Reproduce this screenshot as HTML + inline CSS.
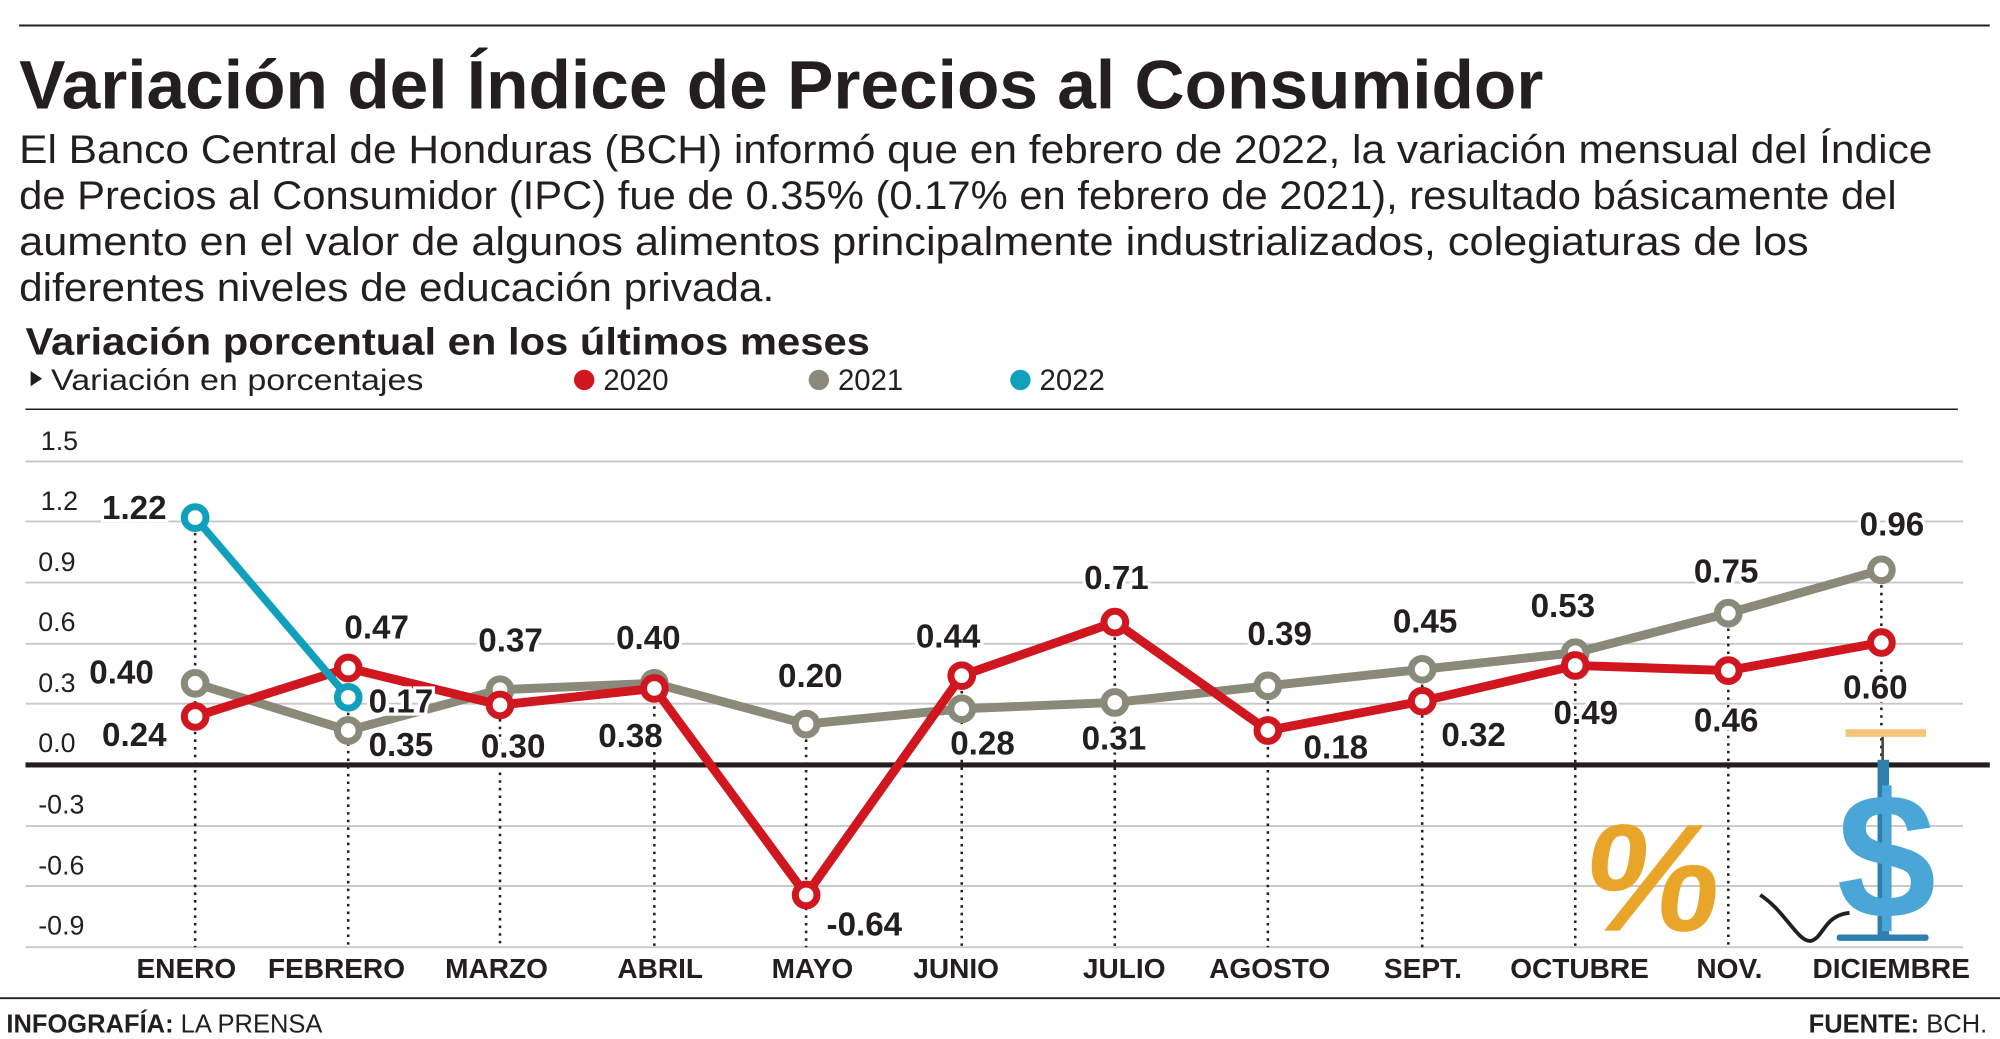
<!DOCTYPE html>
<html><head><meta charset="utf-8"><style>
html,body{margin:0;padding:0;background:#fff;}
svg{display:block;}
text{font-family:"Liberation Sans",sans-serif;fill:#231f20;}
.b{font-weight:bold;}
.v{font-weight:bold;font-size:26px;paint-order:stroke;stroke:#fff;stroke-width:5px;}
.t{font-size:21px;}
.x{font-weight:bold;font-size:22px;}
</style></head><body>
<svg width="2000" height="1039" viewBox="0 0 1568 815" preserveAspectRatio="none" xmlns="http://www.w3.org/2000/svg">
<line x1="15" y1="20" x2="1560" y2="20" stroke="#231f20" stroke-width="1.5"/>
<text x="15" y="85" class="b" font-size="54" textLength="1195" lengthAdjust="spacingAndGlyphs">Variación del Índice de Precios al Consumidor</text>
<g font-size="31">
<text x="15" y="128" textLength="1500" lengthAdjust="spacingAndGlyphs">El Banco Central de Honduras (BCH) informó que en febrero de 2022, la variación mensual del Índice</text>
<text x="15" y="164" textLength="1472" lengthAdjust="spacingAndGlyphs">de Precios al Consumidor (IPC) fue de 0.35% (0.17% en febrero de 2021), resultado básicamente del</text>
<text x="15" y="200" textLength="1403" lengthAdjust="spacingAndGlyphs">aumento en el valor de algunos alimentos principalmente industrializados, colegiaturas de los</text>
<text x="15" y="236" textLength="592" lengthAdjust="spacingAndGlyphs">diferentes niveles de educación privada.</text>
</g>
<text x="20" y="278" class="b" font-size="30" textLength="662" lengthAdjust="spacingAndGlyphs">Variación porcentual en los últimos meses</text>
<polygon points="24,291 33,297 24,303" fill="#231f20"/>
<text x="40" y="306" font-size="23" textLength="292" lengthAdjust="spacingAndGlyphs">Variación en porcentajes</text>
<circle cx="458" cy="298" r="8" fill="#d0161e"/><text x="473" y="306" font-size="23">2020</text>
<circle cx="642" cy="298" r="8" fill="#8a8a7a"/><text x="657" y="306" font-size="23">2021</text>
<circle cx="800" cy="298" r="8" fill="#11a0bb"/><text x="815" y="306" font-size="23">2022</text>
<line x1="20" y1="321" x2="1535" y2="321" stroke="#231f20" stroke-width="1.2"/>
<g stroke="#c8c8c8" stroke-width="1.5">
<line x1="20" y1="362" x2="1539" y2="362"/><line x1="20" y1="409" x2="1539" y2="409"/>
<line x1="20" y1="457" x2="1539" y2="457"/><line x1="20" y1="505" x2="1539" y2="505"/>
<line x1="20" y1="552" x2="1539" y2="552"/><line x1="20" y1="648" x2="1539" y2="648"/>
<line x1="20" y1="695" x2="1539" y2="695"/><line x1="20" y1="743" x2="1539" y2="743"/>
</g>
<g class="t">
<text x="32" y="353">1.5</text><text x="32" y="400">1.2</text><text x="30" y="448">0.9</text>
<text x="30" y="495">0.6</text><text x="30" y="543">0.3</text><text x="30" y="590">0.0</text>
<text x="30" y="638">-0.3</text><text x="30" y="686">-0.6</text><text x="30" y="733">-0.9</text>
</g>
<g stroke="#231f20" stroke-width="2" stroke-dasharray="2,4">
<line x1="153" y1="406" x2="153" y2="743"/><line x1="273" y1="547" x2="273" y2="743"/>
<line x1="392" y1="540" x2="392" y2="743"/><line x1="513" y1="530" x2="513" y2="743"/>
<line x1="632" y1="568" x2="632" y2="743"/><line x1="754" y1="530" x2="754" y2="743"/>
<line x1="874" y1="488" x2="874" y2="743"/><line x1="994" y1="538" x2="994" y2="743"/>
<line x1="1115" y1="525" x2="1115" y2="743"/><line x1="1235" y1="512" x2="1235" y2="743"/>
<line x1="1355" y1="481" x2="1355" y2="743"/><line x1="1475" y1="447" x2="1475" y2="600"/>
</g>
<line x1="20" y1="600" x2="1560" y2="600" stroke="#231f20" stroke-width="4"/>
<polyline fill="none" stroke="#8a8a7a" stroke-width="7" points="153,536 273,573 392,541 513,536 632,568 754,556 874,551 994,538 1115,525 1235,512 1355,481 1475,447"/>
<polyline fill="none" stroke="#d0161e" stroke-width="7" points="153,562 273,524 392,553 513,540 632,702 754,530 874,488 994,573 1115,550 1235,522 1355,526 1475,504"/>
<polyline fill="none" stroke="#11a0bb" stroke-width="6" points="153,406 273,547"/>
<g fill="#fff" stroke-width="5.5">
<g stroke="#8a8a7a"><circle cx="153" cy="536" r="8.5"/><circle cx="273" cy="573" r="8.5"/><circle cx="392" cy="541" r="8.5"/><circle cx="513" cy="536" r="8.5"/><circle cx="632" cy="568" r="8.5"/><circle cx="754" cy="556" r="8.5"/><circle cx="874" cy="551" r="8.5"/><circle cx="994" cy="538" r="8.5"/><circle cx="1115" cy="525" r="8.5"/><circle cx="1235" cy="512" r="8.5"/><circle cx="1355" cy="481" r="8.5"/><circle cx="1475" cy="447" r="8.5"/></g>
<g stroke="#d0161e"><circle cx="153" cy="562" r="8.5"/><circle cx="273" cy="524" r="8.5"/><circle cx="392" cy="553" r="8.5"/><circle cx="513" cy="540" r="8.5"/><circle cx="632" cy="702" r="8.5"/><circle cx="754" cy="530" r="8.5"/><circle cx="874" cy="488" r="8.5"/><circle cx="994" cy="573" r="8.5"/><circle cx="1115" cy="550" r="8.5"/><circle cx="1235" cy="522" r="8.5"/><circle cx="1355" cy="526" r="8.5"/><circle cx="1475" cy="504" r="8.5"/></g>
<g stroke="#11a0bb"><circle cx="153" cy="406" r="8.5"/><circle cx="273" cy="547" r="8.5"/></g>
</g>
<g class="v">
<text x="80" y="407">1.22</text>
<text x="70" y="536">0.40</text><text x="80" y="585">0.24</text>
<text x="270" y="501">0.47</text><text x="289" y="559">0.17</text><text x="289" y="593">0.35</text>
<text x="375" y="511">0.37</text><text x="377" y="594">0.30</text>
<text x="483" y="509">0.40</text><text x="469" y="586">0.38</text>
<text x="610" y="539">0.20</text><text x="648" y="734">-0.64</text>
<text x="718" y="508">0.44</text><text x="745" y="592">0.28</text>
<text x="850" y="462">0.71</text><text x="848" y="588">0.31</text>
<text x="978" y="506">0.39</text><text x="1022" y="595">0.18</text>
<text x="1092" y="496">0.45</text><text x="1130" y="585">0.32</text>
<text x="1200" y="484">0.53</text><text x="1218" y="568">0.49</text>
<text x="1328" y="457">0.75</text><text x="1328" y="574">0.46</text>
<text x="1458" y="420">0.96</text><text x="1445" y="548">0.60</text>
</g>
<g class="x">
<text x="107" y="767">ENERO</text><text x="210" y="767">FEBRERO</text><text x="349" y="767">MARZO</text>
<text x="484" y="767">ABRIL</text><text x="605" y="767">MAYO</text><text x="716" y="767">JUNIO</text>
<text x="849" y="767">JULIO</text><text x="948" y="767">AGOSTO</text><text x="1085" y="767">SEPT.</text>
<text x="1184" y="767">OCTUBRE</text><text x="1330" y="767">NOV.</text><text x="1421" y="767">DICIEMBRE</text>
</g>
<text x="1340" y="730" font-size="120" font-weight="bold" style="fill:#e9a52a" transform="skewX(-8)">%</text>
<path d="M1380,702 C1400,715 1410,740 1420,738 C1430,735 1430,718 1450,716" fill="none" stroke="#231f20" stroke-width="3"/>
<rect x="1447" y="572" width="63" height="6" fill="#f4c477"/>
<line x1="1476" y1="578" x2="1476" y2="598" stroke="#444" stroke-width="2"/>
<rect x="1472" y="596" width="9" height="140" fill="#2e7fb0"/>
<text x="1440" y="720" font-size="140" font-weight="bold" style="fill:#4aa6d6">$</text>
<rect x="1440" y="733" width="72" height="5" rx="2" fill="#2e7fb0"/>
<line x1="0" y1="783" x2="1568" y2="783" stroke="#231f20" stroke-width="1.5"/>
<text x="5" y="810" font-size="20"><tspan font-weight="bold">INFOGRAFÍA:</tspan> LA PRENSA</text>
<text x="1418" y="810" font-size="20"><tspan font-weight="bold">FUENTE:</tspan> BCH.</text>
</svg>
</body></html>
